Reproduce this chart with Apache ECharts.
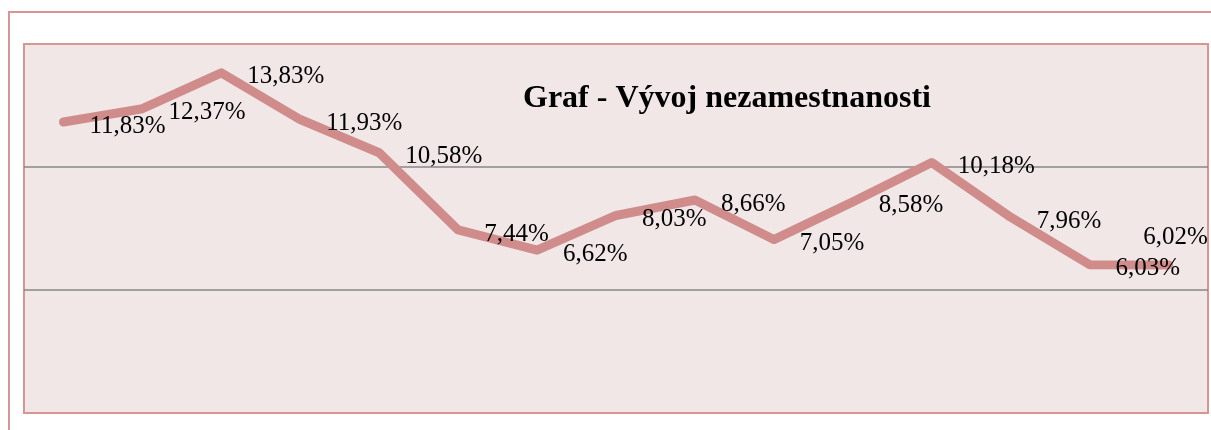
<!DOCTYPE html>
<html>
<head>
<meta charset="utf-8">
<script src="https://cdn.jsdelivr.net/npm/echarts@6/dist/echarts.min.js"></script>
<style>
  html, body { margin: 0; padding: 0; background: #fff; }
  #chart { width: 1211px; height: 430px; }
</style>
</head>
<body>
<div id="chart"></div>
<script>
// body of the line (unemployment rate, %)
const categories = ["1", "2", "3", "4", "5", "6", "7", "8", "9", "10", "11", "12", "13", "14", "15"];
const rates = [11.83, 12.37, 13.83, 11.93, 10.58, 7.44, 6.62, 8.03, 8.66, 7.05, 8.58, 10.18, 7.96, 6.03, 6.02];
const titleText = "Graf - Vývoj nezamestnanosti";

const pink = "#d99594";
const lineColor = "#cf8c8b";

const chart = echarts.init(document.getElementById("chart"));

const seriesData = rates.map((v, i) => {
  if (i === rates.length - 1) {
    // last label sits above the end of the line
    return {
      value: v,
      label: { position: "top", distance: 14, offset: [7, 0] },
    };
  }
  return v;
});

chart.setOption({
  animation: false,
  graphic: [
    {
      type: "rect",
      shape: { x: 9, y: 12, width: 1230, height: 440 },
      style: { fill: "none", stroke: pink, lineWidth: 2 },
      silent: true,
    },
    {
      type: "text",
      left: 523,
      top: 83,
      z: 10,
      style: {
        text: titleText,
        fill: "#000",
        font: "bold 32px 'Liberation Serif', 'Times New Roman', serif",
      },
    },
  ],
  grid: {
    show: true,
    left: 24,
    top: 44,
    width: 1184,
    height: 369,
    backgroundColor: "#f2e7e7",
    borderColor: pink,
    borderWidth: 2,
  },
  xAxis: {
    type: "category",
    data: categories,
    boundaryGap: true,
    axisLine: { show: false },
    axisTick: { show: false },
    axisLabel: { show: false },
    splitLine: { show: false },
  },
  yAxis: {
    type: "value",
    min: 0,
    max: 15,
    interval: 5,
    axisLine: { show: false },
    axisTick: { show: false },
    axisLabel: { show: false },
    splitLine: {
      show: true,
      lineStyle: {
        color: ["transparent", "#878787", "#878787", "transparent"],
        width: 1.5,
      },
    },
  },
  series: [
    {
      type: "line",
      data: seriesData,
      symbol: "circle",
      symbolSize: 2,
      itemStyle: { color: lineColor },
      lineStyle: { color: lineColor, width: 9, cap: "round", join: "round" },
      label: {
        show: true,
        position: "right",
        distance: 25,
        offset: [0, 4],
        color: "#000",
        fontFamily: "'Liberation Serif', 'Times New Roman', serif",
        fontSize: 25,
        formatter: (p) => p.value.toFixed(2).replace(".", ",") + "%",
      },
    },
  ],
});
</script>
</body>
</html>
